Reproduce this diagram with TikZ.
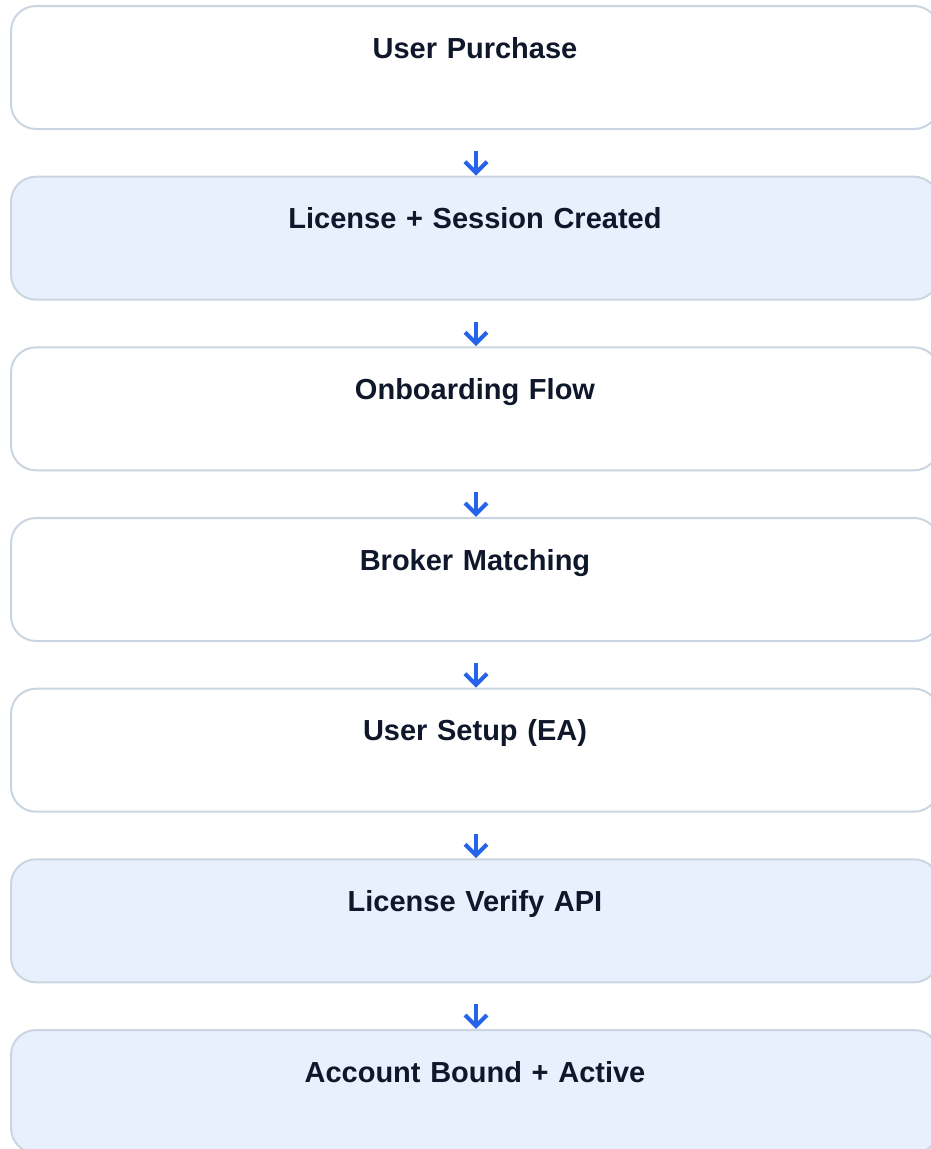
\documentclass[tikz,border=0pt]{standalone}
\usepackage{fontspec}
\setmainfont{Liberation Sans}
\begin{document}
\begin{tikzpicture}[x=1pt,y=-1pt,
  stepbox/.style={draw=boxline, line width=2pt, rounded corners=25pt,
    anchor=north west, minimum width=928pt, inner xsep=0pt, inner ysep=0pt,
    text height=52pt, text depth=71pt, text width=928pt, align=center,
    font=\fontsize{29}{34}\selectfont\bfseries, text=textnavy},
  plain/.style={stepbox, fill=white},
  blue/.style={stepbox, fill=lightblue},
  flowarrow/.style={draw=arrowblue, line width=4pt}
]
\definecolor{boxline}{HTML}{CBD5E1}
\definecolor{lightblue}{HTML}{E8F0FE}
\definecolor{textnavy}{HTML}{0F172A}
\definecolor{arrowblue}{HTML}{2563EB}
\useasboundingbox (0,0) rectangle (930,1149);
\node[plain] (b1) at (10,5) {User Purchase};
\node[blue]  (b2) at (10,175.7) {License + Session Created};
\node[plain] (b3) at (10,346.3) {Onboarding Flow};
\node[plain] (b4) at (10,517) {Broker Matching};
\node[plain] (b5) at (10,687.7) {User Setup (EA)};
\node[blue]  (b6) at (10,858.3) {License Verify API};
\node[blue]  (b7) at (10,1029) {Account Bound + Active};
\foreach \a/\b in {b1/b2,b2/b3,b3/b4,b4/b5,b5/b6,b6/b7}{
  \coordinate (t) at ([xshift=1pt,yshift=-21pt]\a.south);
  \coordinate (h) at ([xshift=1pt,yshift=3pt]\b.north);
  \draw[flowarrow] (t) -- ([yshift=2pt]h);
  \draw[flowarrow, line join=miter] ([xshift=-11pt,yshift=11pt]h) -- (h) -- ([xshift=11pt,yshift=11pt]h);
}
\end{tikzpicture}
\end{document}
